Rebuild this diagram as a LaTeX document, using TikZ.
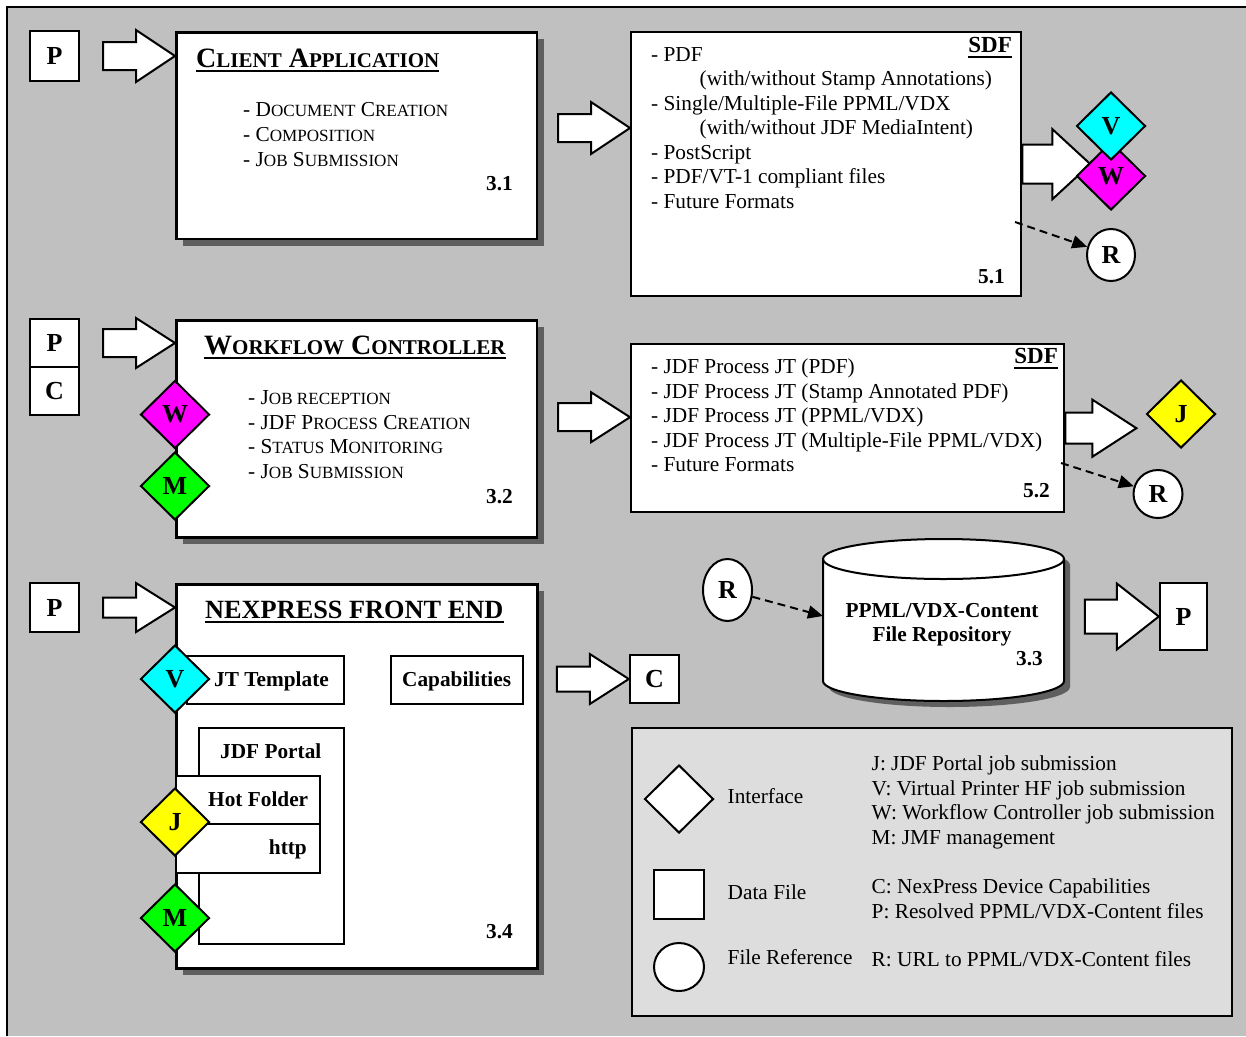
\documentclass[tikz,border=0pt]{standalone}
\usepackage{fontspec}
\setmainfont{Liberation Serif}
\usetikzlibrary{arrows.meta,shapes.geometric,calc,shadows}
\definecolor{bggray}{HTML}{C0C0C0}
\definecolor{shadowgray}{HTML}{5F5F5F}
\definecolor{leggray}{HTML}{DDDDDD}
\definecolor{dcyan}{HTML}{00FFFF}
\definecolor{dmagenta}{HTML}{FF00FF}
\definecolor{dgreen}{HTML}{00FF00}
\definecolor{dyellow}{HTML}{FFFF00}
\newcommand\ssc[1]{{\fontsize{17.1}{24.5}\selectfont #1}}
\newcommand\tsc[1]{{\fontsize{21}{30}\selectfont #1}}
\newcommand\blockarrow[5]{%
  \draw[blockarr] ($(#1)+(-#2,-#4)$) -- ($(#1)+(-#3,-#4)$) -- ($(#1)+(-#3,-#5)$) -- (#1) -- ($(#1)+(-#3,#5)$) -- ($(#1)+(-#3,#4)$) -- ($(#1)+(-#2,#4)$) -- cycle;}
\pgfdeclarelayer{back}
\pgfdeclarelayer{arrows}
\pgfsetlayers{back,arrows,main}
\tikzset{
  txt/.style={font=\fontsize{21.3}{24.5}\selectfont, inner sep=0pt, anchor=base west},
  btxt/.style={font=\fontsize{21.3}{24.5}\selectfont\bfseries, inner sep=0pt},
  titletxt/.style={font=\fontsize{28}{30}\selectfont\bfseries, inner sep=0pt, anchor=base west},
  mainbox/.style={draw, line width=2.6pt, fill=white, inner sep=0pt, anchor=north west},
  shadowed/.style={drop shadow={shadow xshift=7pt, shadow yshift=-7pt, fill=shadowgray, opacity=1}},
  sdfbox/.style={draw, line width=2.4pt, fill=white, inner sep=0pt, anchor=north west},
  datafile/.style={draw, line width=2.4pt, fill=white, inner sep=0pt, font=\fontsize{26}{28}\selectfont\bfseries},
  iface/.style={diamond, draw, line width=2pt, inner sep=0pt, minimum width=69pt, minimum height=68pt, font=\fontsize{26}{28}\selectfont\bfseries},
  fileref/.style={ellipse, draw, line width=2pt, fill=white, inner sep=0pt, font=\fontsize{26}{28}\selectfont\bfseries},
  blockarr/.style={draw, line width=2pt, fill=white, line join=miter},
  refarrow/.style={draw, line width=2pt, dash pattern=on 8pt off 5pt, -{Triangle[length=15pt,width=13pt]}},
  inbox/.style={draw, line width=2.4pt, fill=white, inner sep=0pt, anchor=north west},
  uline/.style={line width=2pt},
}
\begin{document}
\begin{tikzpicture}[x=1pt,y=-1pt]
\useasboundingbox (0,0) rectangle (1246,1036);
\begin{pgfonlayer}{back}
  \fill[white] (0,0) rectangle (1246,1036);
  \fill[bggray] (7,7) rectangle (1246,1036);
  \draw[line width=2pt] (7,1036) -- (7,7) -- (1246,7);
\end{pgfonlayer}

% ---------- Row 1 ----------
\node[datafile, minimum width=49pt, minimum height=50pt] (P1) at (54.5,56) {P};
\node[mainbox, shadowed, minimum width=360.5pt, minimum height=206.5pt] (A31) at (175,31) {};
\node[titletxt] (A31t) at (196,67) {C\tsc{LIENT} A\tsc{PPLICATION}};
\draw[uline] ([yshift=-4pt]A31t.base west) -- ([yshift=-4pt]A31t.base east);
\node[txt] (A31a) at (243,116) {- D\ssc{OCUMENT} C\ssc{REATION}};
\node[txt] (A31b) at (243,141) {- C\ssc{OMPOSITION}};
\node[txt] (A31c) at (243,166) {- J\ssc{OB} S\ssc{UBMISSION}};
\node[btxt, anchor=base east] (A31n) at (513,190) {3.1};

\node[sdfbox, minimum width=390pt, minimum height=264pt] (S51) at (630,31) {};
\node[btxt, anchor=base east, font=\fontsize{23}{24}\selectfont\bfseries] (S51h) at (1012,52) {SDF};
\draw[uline] ([yshift=-4.5pt]S51h.base west) -- ([yshift=-4.5pt]S51h.base east);
\node[txt] (S51a) at (651,61) {- PDF};
\node[txt] (S51b) at (699.5,85.5) {(with/without Stamp Annotations)};
\node[txt] (S51c) at (651,110) {- Single/Multiple-File PPML/VDX};
\node[txt] (S51d) at (699.5,134.5) {(with/without JDF MediaIntent)};
\node[txt] (S51e) at (651,159) {- PostScript};
\node[txt] (S51f) at (651,183.5) {- PDF/VT-1 compliant files};
\node[txt] (S51g) at (651,208) {- Future Formats};
\node[btxt, anchor=base east] (S51n) at (1005,283) {5.1};

\node[iface, fill=dmagenta] (W1) at (1111,176) {W};
\node[iface, fill=dcyan] (V1) at (1111,126) {V};
\node[fileref, minimum width=48pt, minimum height=52pt] (R1) at (1111,255) {R};
\coordinate (r1s) at (1015,222);
\draw[refarrow] (r1s) -- (R1);

% ---------- Row 2 ----------
\node[datafile, minimum width=49pt, minimum height=48pt] (P2) at (54.5,343) {P};
\node[datafile, minimum width=49pt, minimum height=48pt] (C2) at (54.5,391) {C};
\node[mainbox, shadowed, minimum width=360.5pt, minimum height=217pt] (A32) at (175,319) {};
\node[titletxt] (A32t) at (204,354) {W\tsc{ORKFLOW} C\tsc{ONTROLLER}};
\draw[uline] ([yshift=-4pt]A32t.base west) -- ([yshift=-4pt]A32t.base east);
\node[txt] (A32a) at (248,404.5) {- J\ssc{OB RECEPTION}};
\node[txt] (A32b) at (248,429) {- JDF P\ssc{ROCESS} C\ssc{REATION}};
\node[txt] (A32c) at (248,453.5) {- S\ssc{TATUS} M\ssc{ONITORING}};
\node[txt] (A32d) at (248,478) {- J\ssc{OB} S\ssc{UBMISSION}};
\node[btxt, anchor=base east] (A32n) at (513,503) {3.2};
\node[iface, fill=dmagenta] (W2) at (175,414.5) {W};
\node[iface, fill=dgreen] (M2) at (175,486) {M};

\node[sdfbox, minimum width=433pt, minimum height=168pt] (S52) at (630,343) {};
\node[btxt, anchor=base east, font=\fontsize{23}{24}\selectfont\bfseries] (S52h) at (1058,363) {SDF};
\draw[uline] ([yshift=-4.5pt]S52h.base west) -- ([yshift=-4.5pt]S52h.base east);
\node[txt] (S52a) at (651,373.5) {- JDF Process JT (PDF)};
\node[txt] (S52b) at (651,398) {- JDF Process JT (Stamp Annotated PDF)};
\node[txt] (S52c) at (651,422.5) {- JDF Process JT (PPML/VDX)};
\node[txt] (S52d) at (651,447) {- JDF Process JT (Multiple-File PPML/VDX)};
\node[txt] (S52e) at (651,471.5) {- Future Formats};
\node[btxt, anchor=base east] (S52n) at (1050,497) {5.2};
\node[iface, fill=dyellow] (J1) at (1181,414) {J};
\node[fileref, minimum width=49pt, minimum height=48pt] (R2) at (1158,494) {R};
\coordinate (r2s) at (1061,463);
\draw[refarrow] (r2s) -- (R2);

% ---------- Row 3 ----------
\node[datafile, minimum width=49pt, minimum height=49pt] (P3) at (54.5,607.5) {P};
\node[mainbox, shadowed, minimum width=361pt, minimum height=384pt] (A34) at (175,583) {};
\node[titletxt, font=\fontsize{26.3}{28}\selectfont\bfseries] (A34t) at (205,618) {NEXPRESS FRONT END};
\draw[uline] ([yshift=-4pt]A34t.base west) -- ([yshift=-4pt]A34t.base east);
\node[inbox, minimum width=157pt, minimum height=48pt] (JT) at (186,655) {};
\node[btxt, anchor=base west] (JTt) at (214,686) {JT Template};
\node[inbox, minimum width=132pt, minimum height=48pt] (CAP) at (390,655) {};
\node[btxt, anchor=base west] (CAPt) at (402,686) {Capabilities};
\node[inbox, minimum width=145pt, minimum height=216pt] (JP) at (198,727) {};
\node[btxt, anchor=base west] (JPt) at (220,758) {JDF Portal};
\node[inbox, minimum width=144pt, minimum height=48pt] (HF) at (175,775) {};
\node[btxt, anchor=base west] (HFt) at (208,806) {Hot Folder};
\node[inbox, minimum width=144pt, minimum height=49pt] (HT) at (175,823) {};
\node[btxt, anchor=base east] (HTt) at (307,854) {http};
\node[iface, fill=dcyan] (V2) at (175,679) {V};
\node[iface, fill=dyellow] (J2) at (175,822) {J};
\node[iface, fill=dgreen] (M3) at (175,918) {M};
\node[btxt, anchor=base east] (A34n) at (513,938) {3.4};

\node[datafile, minimum width=49pt, minimum height=48pt] (C3) at (654.5,679) {C};

% cylinder
\begin{scope}[shift={(6,6)}]
  \fill[shadowgray] (823,559) -- (823,681) arc[start angle=180, end angle=0, x radius=120.5, y radius=20] -- (1064,559) arc[start angle=0, end angle=-180, x radius=120.5, y radius=20] -- cycle;
\end{scope}
\draw[line width=2pt, fill=white] (823,559) -- (823,681) arc[start angle=180, end angle=0, x radius=120.5, y radius=20] -- (1064,559) arc[start angle=0, end angle=-180, x radius=120.5, y radius=20] -- cycle;
\draw[line width=2pt] (823,559) arc[start angle=180, end angle=0, x radius=120.5, y radius=20];
\coordinate (repoL) at (823,616);
\node[btxt, anchor=base] (REPa) at (942,617) {PPML/VDX-Content};
\node[btxt, anchor=base] (REPb) at (942,641) {File Repository};
\node[btxt, anchor=base east] (REPn) at (1043,665) {3.3};

\node[fileref, minimum width=49pt, minimum height=62pt] (R3) at (727.5,590) {R};
\draw[refarrow] (R3) -- (repoL);
\node[datafile, minimum width=47pt, minimum height=67pt] (P4) at (1183.5,616.5) {P};

% ---------- Legend ----------
\node[draw, line width=2pt, fill=leggray, anchor=north west, inner sep=0pt, minimum width=600pt, minimum height=288pt] (LEG) at (631,727) {};
\node[iface, fill=white] (LD) at (679,799) {};
\node[datafile, minimum width=50pt, minimum height=49pt] (LS) at (679,894.5) {};
\node[fileref, minimum width=50pt, minimum height=48pt] (LC) at (679,967) {};
\node[txt] (L1) at (727.5,803) {Interface};
\node[txt] (L2) at (727.5,899.5) {Data File};
\node[txt] (L3) at (727.5,964) {File Reference};
\node[txt] (L4) at (871.5,770.5) {J: JDF Portal job submission};
\node[txt] (L5) at (871.5,795) {V: Virtual Printer HF job submission};
\node[txt] (L6) at (871.5,819.5) {W: Workflow Controller job submission};
\node[txt] (L7) at (871.5,844) {M: JMF management};
\node[txt] (L8) at (871.5,893.5) {C: NexPress Device Capabilities};
\node[txt] (L9) at (871.5,918) {P: Resolved PPML/VDX-Content files};
\node[txt] (L10) at (871.5,966.5) {R: URL to PPML/VDX-Content files};

% ---------- Block arrows ----------
\coordinate (t1) at (P1.east -| A31.west);
\coordinate (t2) at ($(S51.north west)+(0,97)$);
\coordinate (t3) at ($(S51.east)+(68,0)$);
\coordinate (t4) at (P2.east -| A32.west);
\coordinate (t5) at ($(S52.west)+(0,-11)$);
\coordinate (t6) at ($(S52.east)+(71,0)$);
\coordinate (t7) at (P3.east -| A34.west);
\coordinate (t8) at (C3.west);
\coordinate (t9) at (P4.west);
\begin{pgfonlayer}{arrows}
  \blockarrow{t1}{72}{39}{14}{26}
  \blockarrow{t2}{72}{39}{14}{26}
  \blockarrow{t3}{68}{38}{19.5}{35}
  \blockarrow{t4}{72}{39}{14}{25}
  \blockarrow{t5}{72}{39}{14}{25}
  \blockarrow{t6}{71}{44}{15.5}{28.5}
  \blockarrow{t7}{72}{39}{10}{24.5}
  \blockarrow{t8}{72}{39}{12.5}{25}
  \blockarrow{t9}{74}{42}{17}{33}
\end{pgfonlayer}
\end{tikzpicture}
\end{document}
